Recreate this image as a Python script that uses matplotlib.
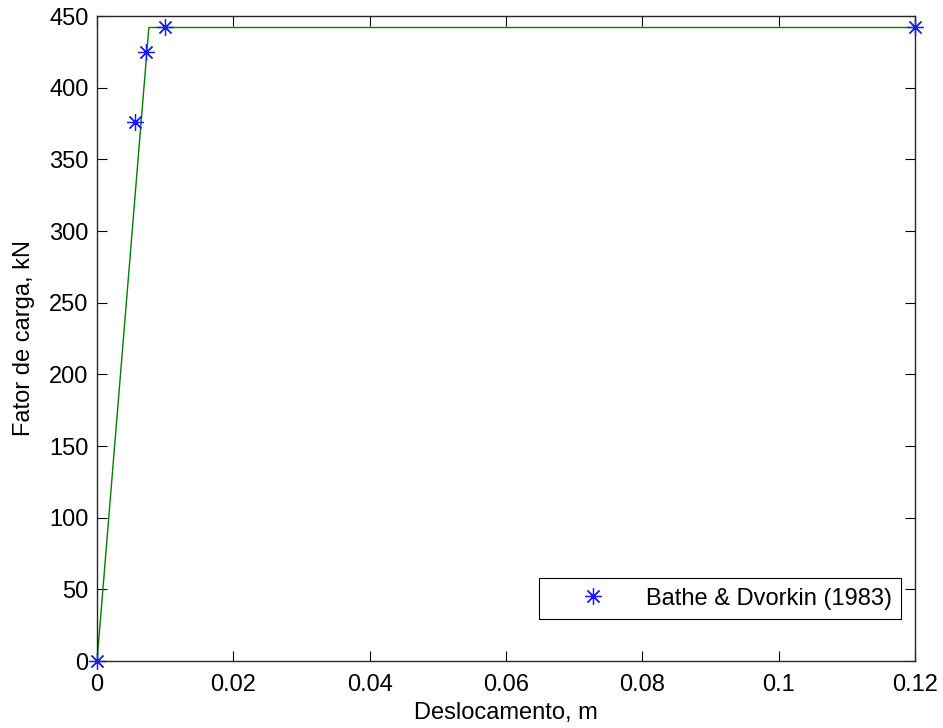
import matplotlib
matplotlib.use("Agg")
import matplotlib.pyplot as plt

plt.rcParams['font.family'] = ['Liberation Sans', 'DejaVu Sans']

# Data
line_x = [0.0, 0.0076, 0.12]
line_y = [0.0, 442.0, 442.0]
ref_x = [0.0, 0.0056, 0.0072, 0.0100, 0.12]
ref_y = [0.0, 376.0, 425.0, 442.0, 442.0]
xticks = [0, 0.02, 0.04, 0.06, 0.08, 0.1, 0.12]
xticklabels = ['0', '0.02', '0.04', '0.06', '0.08', '0.1', '0.12']
yticks = [0, 50, 100, 150, 200, 250, 300, 350, 400, 450]

FS = 17

fig = plt.figure(figsize=(9.43, 7.28), dpi=100)
ax = fig.add_axes([0.1029, 0.092, 0.8675, 0.886])

ax.plot(line_x, line_y, color='#008000', linewidth=1.0, zorder=2)
ax.plot(ref_x, ref_y, linestyle='none', marker=(8, 2, 0), markersize=12,
        markeredgecolor='#1a1aff', markeredgewidth=0.9, color='#1a1aff',
        label='Bathe & Dvorkin (1983)', clip_on=False, zorder=3)

ax.set_xlim(0, 0.12)
ax.set_ylim(0, 450)
ax.set_xticks(xticks)
ax.set_xticklabels(xticklabels)
ax.set_yticks(yticks)
ax.tick_params(direction='in', top=True, right=True, labelsize=FS, length=7,
               width=0.8)
ax.tick_params(axis='y', pad=6)
ax.tick_params(axis='x', pad=9)
for s in ax.spines.values():
    s.set_linewidth(1.0)
    s.set_color('#262626')

ax.set_xlabel('Deslocamento, m', fontsize=FS, labelpad=5)
ax.set_ylabel('Fator de carga, kN', fontsize=FS, labelpad=10)

leg = ax.legend(loc='lower right', bbox_to_anchor=(0.983, 0.065), fontsize=FS,
                frameon=True, fancybox=False, edgecolor='black', framealpha=1,
                borderpad=0.4, handlelength=3.7, handletextpad=0.4,
                borderaxespad=0)
leg.get_frame().set_linewidth(0.8)

fig.savefig('out.png', dpi=100)
